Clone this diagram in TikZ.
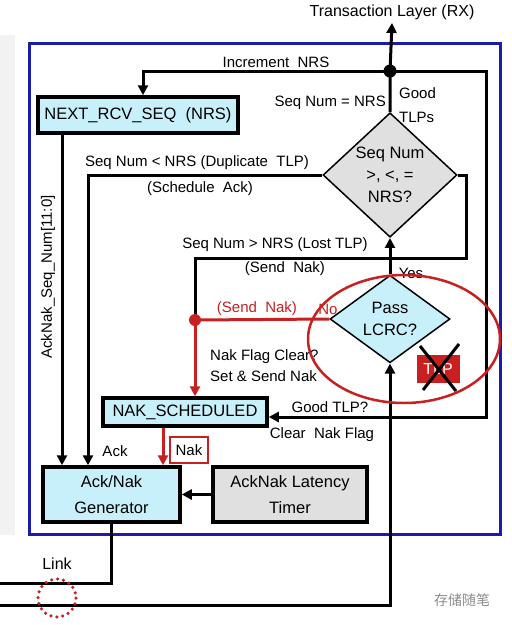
\documentclass[tikz,border=0pt]{standalone}
\usepackage{fontspec}
\setmainfont{Liberation Sans}
\newfontfamily\cjk{Noto Sans CJK SC}
\usepackage{tikz}
\usetikzlibrary{arrows.meta,calc,shapes.geometric}
\usepackage{xcolor}
\definecolor{regcyan}{RGB}{200,240,250}
\definecolor{decgray}{RGB}{224,224,224}
\definecolor{nakred}{RGB}{200,32,32}
\definecolor{frameblue}{RGB}{28,28,170}

\begin{document}
\begin{tikzpicture}[x=1pt,y=-1pt,
  box/.style={draw,line width=3.5pt,fill=regcyan,inner sep=0pt,align=center,
    font=\fontsize{16.5}{26}\selectfont},
  decision/.style={diamond,draw,line width=1.5pt,inner sep=0pt,align=center,
    font=\fontsize{16.5}{22}\selectfont},
  lbl/.style={font=\fontsize{15}{20}\selectfont,inner sep=0pt},
  arr/.style={line width=3pt,-{Triangle[length=10pt,width=10pt]}},
  wire/.style={line width=3pt},
  redarr/.style={line width=3pt,nakred,-{Triangle[length=10pt,width=10pt]}}]
  \useasboundingbox (0,0) rectangle (512,625);
  \fill[white] (0,0) rectangle (512,625);
  \fill[black!5] (0,35) rectangle (15,535);
  % data link layer frame
  \draw[frameblue,line width=3pt] (29,43) rectangle (500,534);
  % registers and blocks
  \node[box,minimum width=200pt,minimum height=36pt] (nrs) at (138,115) {NEXT\_RCV\_SEQ\ \ (NRS)};
  \node[box,minimum width=164pt,minimum height=28pt] (naksched) at (185,412) {NAK\_SCHEDULED};
  \node[box,minimum width=137pt,minimum height=55pt] (gen) at (111.5,494.5) {Ack/Nak\\Generator};
  \node[box,fill=decgray,minimum width=154pt,minimum height=55pt] (timer) at (290,494.5) {AckNak Latency\\Timer};
  % decisions
  \node[decision,fill=decgray,minimum width=134pt,minimum height=100pt] (seq) at (390,175) {Seq Num\\{>, <, =}\\NRS?};
  \node[decision,fill=regcyan,minimum width=120pt,minimum height=58pt] (lcrc) at (390,319) {Pass\\LCRC?};
  % dots
  \node[circle,inner sep=0pt,minimum size=13pt] (tx) at (390,71) {};
  \node[circle,inner sep=0pt,minimum size=12pt] (jn) at (195,320) {};
  \node[font=\fontsize{16}{20}\selectfont] (tl) at (392,12) {Transaction Layer (RX)};
  % helper points
  \coordinate (inc) at (143,71);
  \coordinate (tr) at (486,71);
  \coordinate (gt) at (486,417);
  \coordinate (ab) at (62,300);
  \coordinate (dup) at (88,175);
  \coordinate (lost) at (466,175);
  \coordinate (lostb) at (466,258);
  \coordinate (nk) at (163,440);
  \coordinate (rxin) at (0,605);
  \coordinate (txout) at (0,583);
  % good TLP path
  \draw[arr] (seq.north) -- (tx.center) -- (tl.south);
  \draw[arr] (tx.center) -- (inc) -- (inc |- nrs.north);
  \draw[arr] (tx.center) -- (tr) -- (gt) -- (gt -| naksched.east);
  \draw[arr] (ab |- nrs.south) -- (ab |- gen.north);
  % duplicate TLP
  \draw[arr] (seq.west) -- (dup) -- (dup |- gen.north);
  % lost TLP
  \draw[wire] (seq.east) -- (lost) -- (lostb) -- (lostb -| jn) -- (jn.center);
  \draw[redarr] (jn.center) -- (jn |- naksched.north);
  \draw[wire,nakred] (lcrc.west) -- (jn.center);
  \draw[arr] (lcrc.north) -- (seq.south);
  \draw[arr] (rxin) -- (rxin -| lcrc.south) -- (lcrc.south);
  \draw[redarr] (nk |- naksched.south) -- (nk |- gen.north);
  \draw[arr] (timer.west) -- (gen.east);
  \draw[wire] (gen.south) -- (gen.south |- txout) -- (txout);
  \fill (tx) circle [radius=6.5];
  \fill[nakred] (jn) circle [radius=6];
  % labels
  \node[lbl] (incl) at (276,62) {Increment\ \ NRS};
  \node[lbl,anchor=east] (eql) at (386,103) {Seq Num = NRS};
  \node[lbl,anchor=west,align=left,font=\fontsize{15}{24}\selectfont] (goodl) at (399,105) {Good\\TLPs};
  \node[lbl] (dupl) at (197,163) {Seq Num < NRS (Duplicate\ \ TLP)};
  \node[lbl] (ackl) at (200,189) {(Schedule\ \ Ack)};
  \node[lbl] (lostl) at (275,245) {Seq Num > NRS (Lost TLP)};
  \node[lbl] (sendl) at (285,269) {(Send\ \ Nak)};
  \node[lbl] (yesl) at (411,273) {Yes};
  \node[lbl,text=nakred] (sendr) at (257,309) {(Send\ \ Nak)};
  \node[lbl,text=nakred] (nol) at (328,309) {No};
  \node[lbl,anchor=west,align=left,font=\fontsize{15}{21}\selectfont] (flagl) at (210,366) {Nak Flag Clear?\\Set \& Send Nak};
  \node[lbl] (goodtl) at (330,407) {Good TLP?};
  \node[lbl] (clrl) at (322,435) {Clear\ \ Nak Flag};
  \node[lbl] (ackg) at (115,451) {Ack};
  \node[lbl,draw=nakred,line width=1.5pt,minimum width=38pt,minimum height=26pt] (nakl) at (189,450) {Nak};
  \node[lbl,rotate=90] (busl) at (48,277) {AckNak\_Seq\_Num[11:0]};
  \node[font=\fontsize{16}{20}\selectfont] (linkl) at (57,564) {Link};
  % bad TLP dropped
  \node[fill=nakred,text=white,font=\fontsize{16}{20}\selectfont,minimum width=43pt,minimum height=28pt] (tlp) at (438,369) {TLP};
  \draw[line width=3pt] ($(tlp.center)+(-18,-23)$) -- ($(tlp.center)+(18,22)$);
  \draw[line width=3pt] ($(tlp.center)+(21,-25)$) -- ($(tlp.center)+(-15,21)$);
  \draw[nakred,line width=2.5pt] (404,339) ellipse [x radius=96,y radius=64];
  \draw[nakred,line width=3.5pt,line cap=round,dash pattern=on 0pt off 6pt] (57,598) circle [radius=19];
  % watermark
  \node[text=black!45,font=\cjk\fontsize{14}{16}\selectfont] (wm) at (462,600) {存储随笔};
\end{tikzpicture}
\end{document}
